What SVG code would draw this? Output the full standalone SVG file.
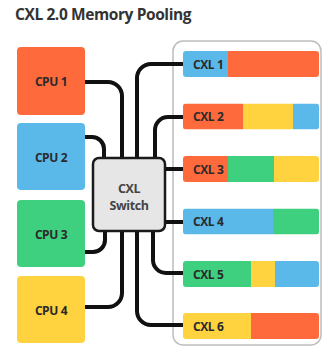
<svg xmlns="http://www.w3.org/2000/svg" width="323" height="351" viewBox="0 0 323 351">
<style>
.t{font-family:"Open Sans","Liberation Sans",sans-serif;font-weight:700;fill:#2a2a2a;letter-spacing:-0.4px}
.lbl{font-size:12px;dominant-baseline:central}
.c{text-anchor:middle}
.o{fill:#FF6A3D}.b{fill:#5BB9EA}.g{fill:#3FD07F}.y{fill:#FFD23F}
.w{fill:none;stroke:#111;stroke-width:4;stroke-linecap:butt}
</style>
<defs>
<clipPath id="bar"><rect x="0" y="0" width="136" height="26" rx="3"/></clipPath>
</defs>
<rect width="323" height="351" fill="#fff"/>
<text class="t" x="15" y="20" font-size="15.5" style="fill:#333">CXL 2.0 Memory Pooling</text>
<rect id="panel" x="173" y="41" width="148" height="304" rx="10" fill="#fff" stroke="#bdbdbd" stroke-width="1.5"/>
<g id="connectors">
<path class="w" d="M85 82H108A14 14 0 0 1 122 96V160"/>
<path class="w" d="M137 160V78A14 14 0 0 1 151 64H184"/>
<path class="w" d="M85 137H92A12 12 0 0 1 104 149V160"/>
<path class="w" d="M155 160V130A13 13 0 0 1 168 117H184"/>
<path class="w" d="M164 169H184"/>
<path class="w" d="M164 222H184"/>
<path class="w" d="M105 229V240A12 12 0 0 1 93 252H85"/>
<path class="w" d="M122 229V293A14 14 0 0 1 108 307H85"/>
<path class="w" d="M137 229V311A14 14 0 0 0 151 325H184"/>
<path class="w" d="M153 229V260A13 13 0 0 0 166 273H184"/>
</g>
<g id="cpu1"><rect class="o" x="17" y="47" width="68" height="68" rx="4"/><text class="t lbl c" x="51" y="81">CPU 1</text></g>
<g id="cpu2"><rect class="b" x="17" y="123" width="68" height="67" rx="4"/><text class="t lbl c" x="51" y="157">CPU 2</text></g>
<g id="cpu3"><rect class="g" x="17" y="200" width="68" height="67" rx="4"/><text class="t lbl c" x="51" y="234">CPU 3</text></g>
<g id="cpu4"><rect class="y" x="17" y="276" width="68" height="67" rx="4"/><text class="t lbl c" x="51" y="310">CPU 4</text></g>
<g id="switch"><rect x="93" y="158" width="72" height="73" rx="6" fill="#e6e6e6" stroke="#1a1a1a" stroke-width="2.5"/>
<text class="t c" x="129" y="193" font-size="12.5" style="fill:#444">CXL</text>
<text class="t c" x="129" y="210" font-size="12.5" style="fill:#444">Switch</text></g>
<g id="cxl1" transform="translate(183,51)"><g clip-path="url(#bar)"><rect class="b" x="0" y="0" width="45" height="26"/><rect class="o" x="45" y="0" width="91" height="26"/></g><text class="t lbl" x="10" y="13">CXL 1</text></g>
<g id="cxl2" transform="translate(183,103.5)"><g clip-path="url(#bar)"><rect class="o" x="0" y="0" width="60" height="26"/><rect class="y" x="60" y="0" width="50" height="26"/><rect class="b" x="110" y="0" width="26" height="26"/></g><text class="t lbl" x="10" y="13">CXL 2</text></g>
<g id="cxl3" transform="translate(183,156)"><g clip-path="url(#bar)"><rect class="o" x="0" y="0" width="45" height="26"/><rect class="g" x="45" y="0" width="46" height="26"/><rect class="y" x="91" y="0" width="45" height="26"/></g><text class="t lbl" x="10" y="13">CXL 3</text></g>
<g id="cxl4" transform="translate(183,208.5)"><g clip-path="url(#bar)"><rect class="b" x="0" y="0" width="90" height="26"/><rect class="g" x="90" y="0" width="46" height="26"/></g><text class="t lbl" x="10" y="13">CXL 4</text></g>
<g id="cxl5" transform="translate(183,261)"><g clip-path="url(#bar)"><rect class="g" x="0" y="0" width="68" height="26"/><rect class="y" x="68" y="0" width="24" height="26"/><rect class="b" x="92" y="0" width="44" height="26"/></g><text class="t lbl" x="10" y="13">CXL 5</text></g>
<g id="cxl6" transform="translate(183,313)"><g clip-path="url(#bar)"><rect class="y" x="0" y="0" width="68" height="26"/><rect class="o" x="68" y="0" width="68" height="26"/></g><text class="t lbl" x="10" y="13">CXL 6</text></g>
</svg>
